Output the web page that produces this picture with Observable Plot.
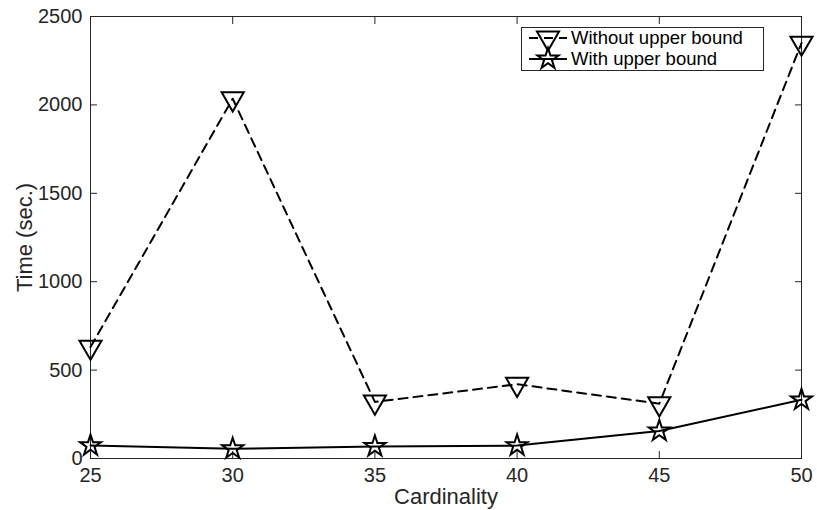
<!DOCTYPE html>
<html><head><meta charset="utf-8">
<script src="https://cdn.jsdelivr.net/npm/d3@7"></script>
<script src="https://cdn.jsdelivr.net/npm/@observablehq/plot@0.6"></script>
<style>
body{margin:0;background:#fff;}
#wrap{position:relative;width:817px;height:510px;}
#wrap svg{display:block;}
#legend{position:absolute;left:0;top:0;pointer-events:none;}
</style></head><body><div id="wrap"></div>
<script>
const cardinality = [25, 30, 35, 40, 45, 50];
const withoutUpper = [630, 2035, 320, 420, 310, 2350];
const withUpper = [73, 55, 68, 73, 156, 332];
const xTicks = [25, 30, 35, 40, 45, 50];
const yTicks = [0, 500, 1000, 1500, 2000, 2500];
const seriesNames = ["Without upper bound", "With upper bound"];
const xLabel = "Cardinality";
const yLabel = "Time (sec.)";

const FONT = "'Liberation Sans', Arial, Helvetica, sans-serif";
const AX = "#262626";

const dataWithout = cardinality.map((c, i) => ({x: c, y: withoutUpper[i]}));
const dataWith = cardinality.map((c, i) => ({x: c, y: withUpper[i]}));

const W = 817, H = 510;
const chart = Plot.plot({
  width: W, height: H,
  marginLeft: 90, marginRight: 16, marginTop: 16, marginBottom: 52,
  style: {fontFamily: FONT, fontSize: "20px", color: AX, background: "#fff"},
  x: {domain: [25, 50]},
  y: {domain: [0, 2500]},
  marks: [
    Plot.frame({stroke: AX, strokeWidth: 1}),
    Plot.axisX({anchor: "bottom", ticks: xTicks, tickFormat: d => String(d), tickSize: -7, tickPadding: 16, label: null, stroke: AX, fill: AX, fontSize: 20}),
    Plot.axisX({anchor: "top", ticks: xTicks, tickSize: -7, tickFormat: () => "", label: null, stroke: AX}),
    Plot.axisY({anchor: "left", ticks: yTicks, tickFormat: d => String(d), tickSize: -7, tickPadding: 15, label: null, stroke: AX, fill: AX, fontSize: 20}),
    Plot.axisY({anchor: "right", ticks: yTicks, tickSize: -7, tickFormat: () => "", label: null, stroke: AX}),
    Plot.text([xLabel], {frameAnchor: "bottom", dy: 38, lineAnchor: "middle", textAnchor: "middle", fontSize: 22, fill: AX}),
    Plot.text([yLabel], {frameAnchor: "left", dx: -66, rotate: -90, lineAnchor: "middle", textAnchor: "middle", fontSize: 22, fill: AX}),
    Plot.line(dataWithout, {x: "x", y: "y", stroke: "#000", strokeWidth: 2, strokeDasharray: "9,6"}),
    Plot.line(dataWith, {x: "x", y: "y", stroke: "#000", strokeWidth: 2}),
    Plot.dot(dataWithout, {x: "x", y: "y", symbol: "triangle", rotate: 180, r: 8.2, fill: "none", stroke: "#000", strokeWidth: 2}),
    Plot.dot(dataWith, {x: "x", y: "y", symbol: "star", r: 6.6, fill: "none", stroke: "#000", strokeWidth: 2})
  ]
});
const wrap = document.getElementById("wrap");
wrap.appendChild(chart);

// Legend overlay
const lg = d3.select(wrap).append("svg").attr("id", "legend").attr("width", W).attr("height", H);
const box = {x: 521.5, y: 27.5, w: 242, h: 43};
lg.append("rect").attr("x", box.x).attr("y", box.y).attr("width", box.w).attr("height", box.h)
  .attr("fill", "#fff").attr("stroke", AX).attr("stroke-width", 1);
const rows = [
  {name: seriesNames[0], dash: "9,6", sym: d3.symbolTriangle, r: 8.2, rot: 180},
  {name: seriesNames[1], dash: null, sym: d3.symbolStar, r: 6.6, rot: 0}
];
rows.forEach((row, i) => {
  const cy = 38 + i * 21;
  lg.append("line").attr("x1", 529).attr("x2", 567).attr("y1", cy).attr("y2", cy)
    .attr("stroke", "#000").attr("stroke-width", 2).attr("stroke-dasharray", row.dash);
  lg.append("path").attr("d", d3.symbol(row.sym, row.r * row.r * Math.PI)())
    .attr("transform", `translate(548,${cy}) rotate(${row.rot})`)
    .attr("fill", "none").attr("stroke", "#000").attr("stroke-width", 2);
  lg.append("text").attr("x", 571).attr("y", cy).attr("dy", "0.35em")
    .attr("font-family", FONT).attr("font-size", 18.5).attr("fill", "#000").text(row.name);
});
</script></body></html>
